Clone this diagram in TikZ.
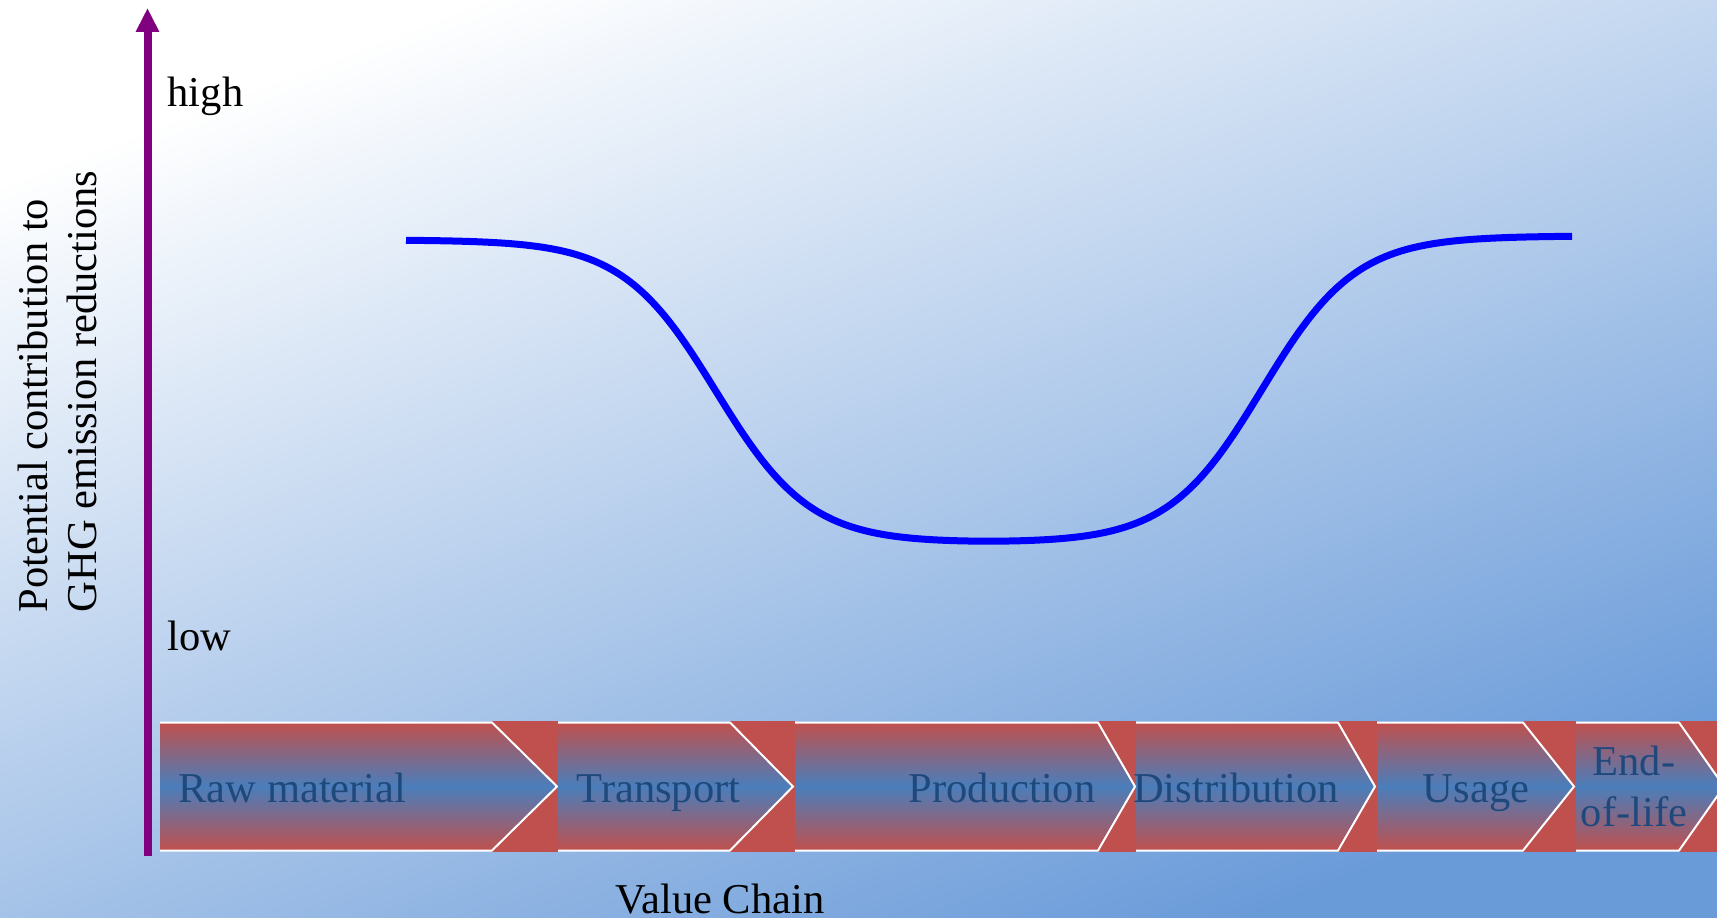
\documentclass[tikz,border=0pt]{standalone}
\usepackage{fontspec}
\setmainfont{Liberation Serif}
\usepackage{xcolor}
\definecolor{vcpurple}{RGB}{128, 0, 128}
\definecolor{vccurve}{RGB}{0, 0, 255}
\definecolor{vcred}{RGB}{192, 80, 77}
\definecolor{vcsteel}{RGB}{74, 126, 187}
\definecolor{vctext}{RGB}{31, 73, 125}
\definecolor{vcbgmid}{RGB}{190, 211, 239}
\definecolor{vcbgdeep}{RGB}{106, 155, 217}
\usetikzlibrary{arrows.meta,positioning}

\begin{document}
\begin{tikzpicture}[x=0.1mm, y=-0.1mm,
    stage/.style={top color=vcred, bottom color=vcred, middle color=vcsteel},
    stageedge/.style={draw=white, line width=0.2mm, line join=miter},
    stagelabel/.style={font=\fontsize{12.1}{14.7}\selectfont, text=vctext, inner sep=0pt, anchor=base},
    axislabel/.style={font=\fontsize{12.1}{14}\selectfont, inner sep=0pt},
    axisline/.style={vcpurple, line width=0.8mm, -{Triangle[length=2.4mm, width=2.2mm]}}]
    % Background
    \useasboundingbox (0,0) rectangle (1717,918);
    \clip (0,0) rectangle (1717,918);
    \shade[top color=white, middle color=vcbgmid, bottom color=vcbgdeep, shading angle=21]
        (0,0) rectangle (1717,918);

    % Emission reduction curve
    \draw[vccurve, line width=0.7mm, line join=round] plot[domain=406:1572, samples=240, smooth]
        (\x, {543 - 303/(1+exp(min(8,max(-8,(\x-716)/47))))
                  - 307/(1+exp(min(8,max(-8,(1262-\x)/47))))});

    % Vertical axis
    \coordinate (yfoot) at (147.5,856);
    \coordinate (ytip) at (147.5,8);
    \draw[axisline] (yfoot) -- (ytip);
    \node[axislabel, anchor=base west] (high) at (167,107) {high};
    \node[axislabel, anchor=base west] (low) at (167,650) {low};
    \node[axislabel, rotate=90, align=left] (potential) at (57.5,391.5)
        {Potential contribution to\\GHG emission reductions};

    % Value chain band (gaps)
    \fill[vcred] (492,721) rectangle (558,852);
    \fill[vcred] (730,721) rectangle (795,852);
    \fill[vcred] (1098,721) rectangle (1136,852);
    \fill[vcred] (1338,721) rectangle (1377,852);
    \fill[vcred] (1523,721) rectangle (1576,852);
    \fill[vcred] (1679,721) rectangle (1717,852);

    % Value chain stages
    \shade[stage] (160,722.5) -- (492,722.5) -- (557,786.5) -- (492,850.5) -- (160,850.5) -- cycle;
    \draw[stageedge] (160,722.5) -- (492,722.5) -- (557,786.5) -- (492,850.5) -- (160,850.5);
    \shade[stage] (558,722.5) -- (730,722.5) -- (793,786.5) -- (730,850.5) -- (558,850.5) -- cycle;
    \draw[stageedge] (558,722.5) -- (730,722.5) -- (793,786.5) -- (730,850.5) -- (558,850.5);
    \shade[stage] (795,722.5) -- (1098,722.5) -- (1135,786.5) -- (1098,850.5) -- (795,850.5) -- cycle;
    \draw[stageedge] (795,722.5) -- (1098,722.5) -- (1135,786.5) -- (1098,850.5) -- (795,850.5);
    \shade[stage] (1136,722.5) -- (1338,722.5) -- (1375,786.5) -- (1338,850.5) -- (1136,850.5) -- cycle;
    \draw[stageedge] (1136,722.5) -- (1338,722.5) -- (1375,786.5) -- (1338,850.5) -- (1136,850.5);
    \shade[stage] (1377,722.5) -- (1523,722.5) -- (1574,786.5) -- (1523,850.5) -- (1377,850.5) -- cycle;
    \draw[stageedge] (1377,722.5) -- (1523,722.5) -- (1574,786.5) -- (1523,850.5) -- (1377,850.5);
    \shade[stage] (1576,722.5) -- (1679,722.5) -- (1724,786.5) -- (1679,850.5) -- (1576,850.5) -- cycle;
    \draw[stageedge] (1576,722.5) -- (1679,722.5) -- (1724,786.5) -- (1679,850.5) -- (1576,850.5);

    \node[stagelabel] (raw) at (292.5,802) {Raw material};
    \node[stagelabel] (transport) at (658.5,802) {Transport};
    \node[stagelabel] (production) at (1002,802) {Production};
    \node[stagelabel] (distribution) at (1236,802) {Distribution};
    \node[stagelabel] (usage) at (1476,802) {Usage};
    \node[stagelabel, anchor=center, align=center] (eol) at (1634,786.5) {End-\\of-life};

    % Axis caption
    \node[axislabel, anchor=base] (chain) at (720,913) {Value Chain};
\end{tikzpicture}
\end{document}
